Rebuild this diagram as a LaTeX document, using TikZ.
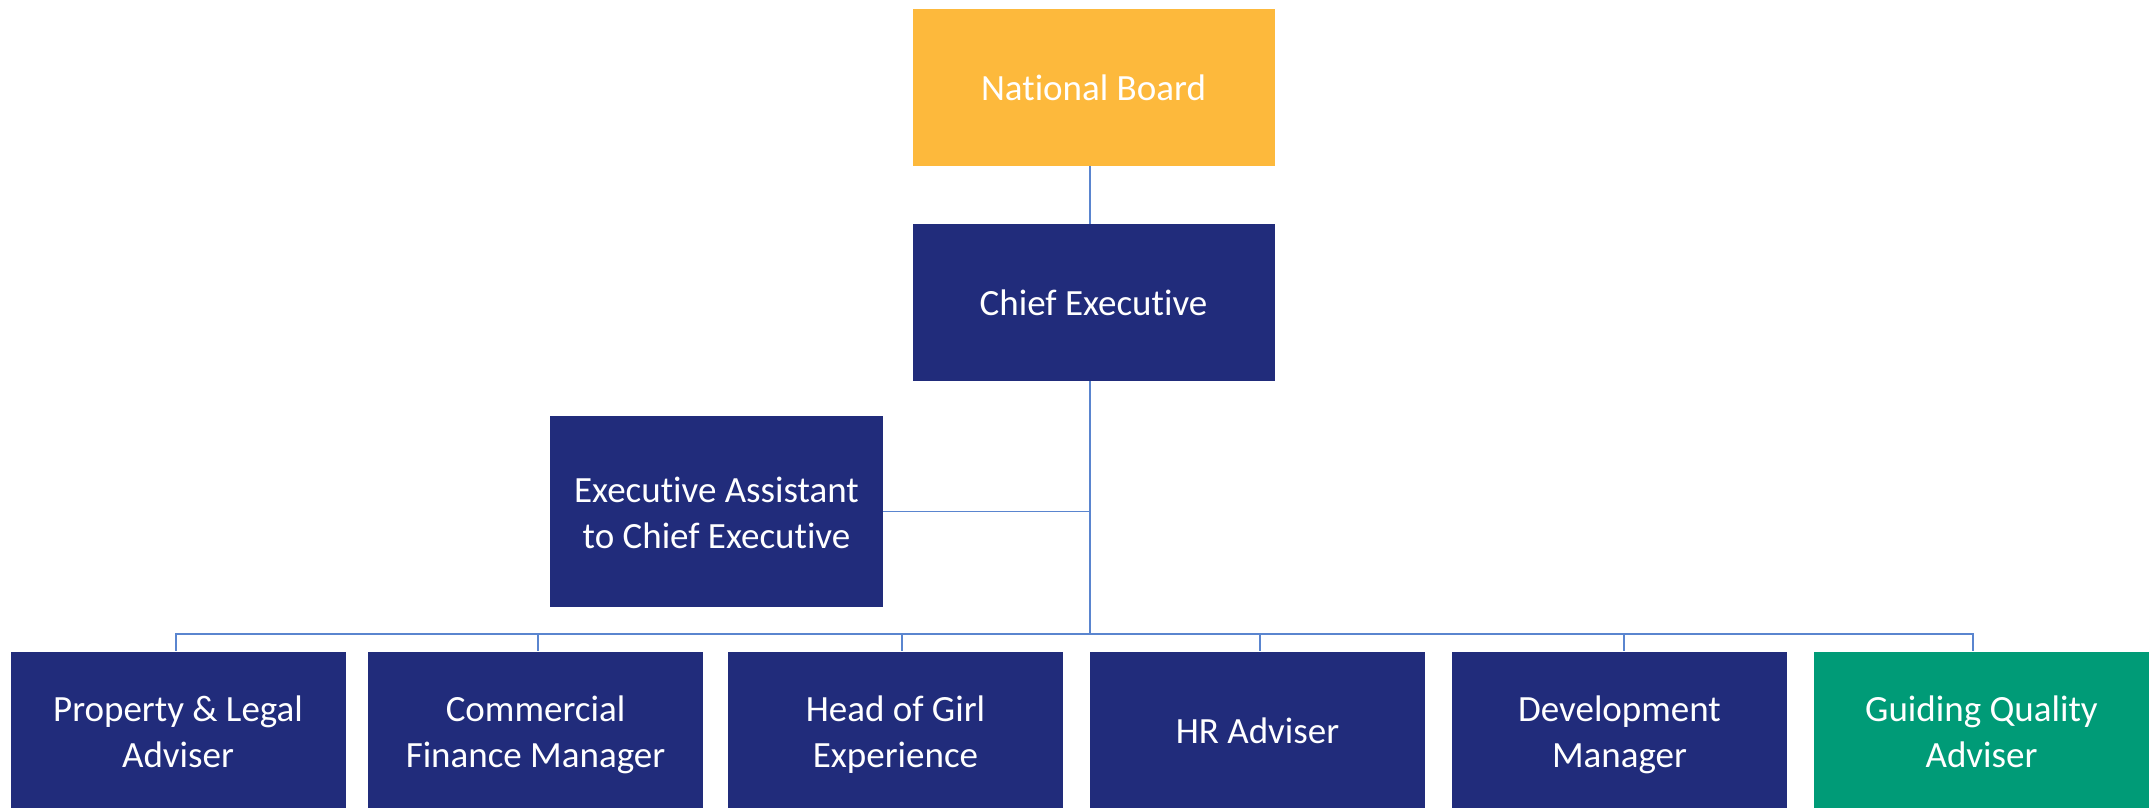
\documentclass[tikz,border=0pt]{standalone}
\usepackage{fontspec}
\setmainfont{Carlito}[Ligatures=CommonOff]
\definecolor{boardorange}{HTML}{FDB93C}
\definecolor{navy}{HTML}{212C7B}
\definecolor{guidegreen}{HTML}{009B77}
\definecolor{linkblue}{HTML}{5A85CF}
\begin{document}
\begin{tikzpicture}[x=1pt,y=-1pt,
  box/.style={rectangle, draw=none, fill=navy, text=white, inner sep=0pt, align=center,
    font=\fontsize{37}{46}\selectfont},
  oneline/.style={text height=30pt, text depth=3.6pt},
  twoline/.style={text height=80pt, text depth=6pt},
  topbox/.style={box, oneline, minimum width=362pt, minimum height=157pt},
  rowbox/.style={box, minimum width=335pt, minimum height=157pt},
  link/.style={draw=linkblue, line width=1.4pt}]
\fill[white] (0,0) rectangle (2152,808);
\useasboundingbox (0,0) rectangle (2152,808);

\node[topbox, fill=boardorange] (nb) at (1093.5,87.5) {National Board};
\node[topbox] (ce) at (1093.5,302.5) {Chief Executive};
\node[box, twoline, minimum width=333pt, minimum height=191pt] (ea) at (716.5,511.5) {Executive Assistant\\to Chief Executive};

\node[rowbox, twoline] (b1) at (178,730) {Property \& Legal\\Adviser};
\node[rowbox, twoline] (b2) at (535.5,730) {Commercial\\Finance Manager};
\node[rowbox, twoline] (b3) at (895.5,730) {Head of Girl\\Experience};
\node[rowbox, oneline] (b4) at (1257.5,730) {HR Adviser};
\node[rowbox, twoline] (b5) at (1619.5,730) {Development\\Manager};
\node[rowbox, twoline, fill=guidegreen] (b6) at (1981.5,730) {Guiding Quality\\Adviser};

\coordinate (bus) at (1090,634);

\draw[link] ([xshift=-3.5pt]nb.south) -- ([xshift=-3.5pt]ce.north);
\draw[link] ([xshift=-3.5pt]ce.south) -- (bus);
\draw[link] (ea.east) -- (ea.east -| bus);
\draw[link] (bus) -| ([xshift=-2pt]b1.north);
\draw[link] (bus) -| ([xshift=2.5pt]b2.north);
\draw[link] (bus) -| ([xshift=6.5pt]b3.north);
\draw[link] (bus) -| ([xshift=2.5pt]b4.north);
\draw[link] (bus) -| ([xshift=4.5pt]b5.north);
\draw[link] (bus) -| ([xshift=-8.5pt]b6.north);
\end{tikzpicture}
\end{document}
